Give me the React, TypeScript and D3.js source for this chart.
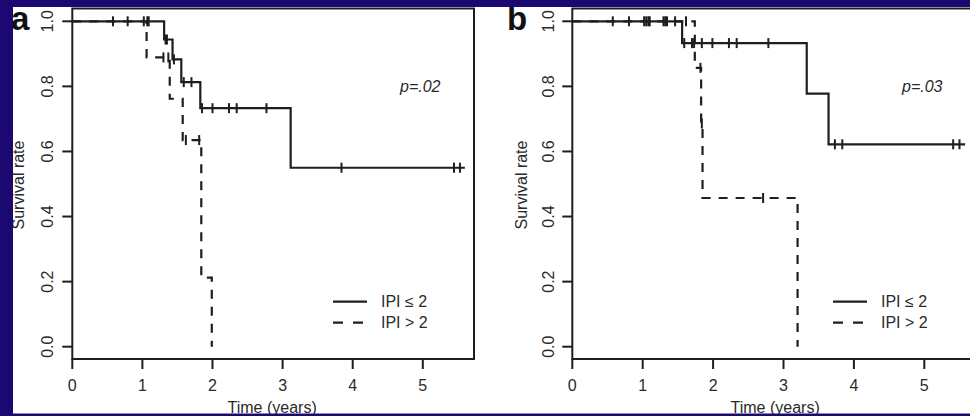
import React from "react";
import * as d3 from "d3";

// ---------- data ----------
const xTicks = [0, 1, 2, 3, 4, 5];
const yTicks = [0, 0.2, 0.4, 0.6, 0.8, 1.0];

// Panel a, IPI <= 2 (solid)
const aLowTimes = [0, 1.31, 1.43, 1.555, 1.826, 3.115];
const aLowSurv = [1, 0.944, 0.883, 0.813, 0.733, 0.55];
const aLowEnd = 5.6;
const aLowCensor = [0.58, 0.79, 1.02, 1.07, 1.09, 1.33, 1.35, 1.45, 1.59, 1.7, 1.85, 2.0, 2.235, 2.345, 2.77, 3.84, 5.445, 5.53];

// Panel a, IPI > 2 (dashed)
const aHighTimes = [0, 1.06, 1.39, 1.575, 1.84, 1.99];
const aHighSurv = [1, 0.889, 0.762, 0.635, 0.212, 0];
const aHighEnd = 1.99;
const aHighCensor = [1.3, 1.37, 1.62, 1.81];

// Panel b, IPI <= 2 (solid)
const bLowTimes = [0, 1.56, 3.33, 3.64];
const bLowSurv = [1, 0.933, 0.778, 0.622];
const bLowEnd = 5.58;
const bLowCensor = [0.575, 0.805, 1.02, 1.05, 1.08, 1.1, 1.295, 1.32, 1.345, 1.46, 1.59, 1.7, 1.73, 1.84, 1.99, 2.225, 2.335, 2.785, 3.73, 3.835, 5.41, 5.5];

// Panel b, IPI > 2 (dashed)
const bHighTimes = [0, 1.74, 1.83, 1.85, 3.2];
const bHighSurv = [1, 0.857, 0.686, 0.457, 0];
const bHighEnd = 3.2;
const bHighCensor = [1.615, 1.82, 1.84, 2.71];

const legendLabels = ["IPI \u2264 2", "IPI > 2"];
const pValues = ["p=.02", "p=.03"];
const panelLetters = ["a", "b"];

// ---------- layout ----------
const W = 970;
const H = 416;
const BLUE = "#1b0870";
const INK = "#1e1e1e";
const FONT = "Liberation Sans, Arial, Helvetica, sans-serif";
const yScale = d3.scaleLinear().domain([0, 1]).range([346.7, 21.3]);
const boxTop = 8.5;
const boxBottom = 359;

type Curve = { times: number[]; surv: number[]; end: number; censor: number[]; dashed: boolean };

const panels = [
  {
    letter: panelLetters[0],
    p: pValues[0],
    x: d3.scaleLinear().domain([0, 5]).range([72.3, 422.8]),
    boxRight: 474,
    curves: [
      { times: aLowTimes, surv: aLowSurv, end: aLowEnd, censor: aLowCensor, dashed: false },
      { times: aHighTimes, surv: aHighSurv, end: aHighEnd, censor: aHighCensor, dashed: true },
    ] as Curve[],
    letterX: 11,
    ylabX: 18.5,
    yTickLabX: 47,
    legendX: 333,
    pX: 400,
  },
  {
    letter: panelLetters[1],
    p: pValues[1],
    x: d3.scaleLinear().domain([0, 5]).range([572.3, 924.3]),
    boxRight: 980,
    curves: [
      { times: bLowTimes, surv: bLowSurv, end: bLowEnd, censor: bLowCensor, dashed: false },
      { times: bHighTimes, surv: bHighSurv, end: bHighEnd, censor: bHighCensor, dashed: true },
    ] as Curve[],
    letterX: 507,
    ylabX: 521.5,
    yTickLabX: 548.5,
    legendX: 833,
    pX: 902,
  },
];

function survAt(c: Curve, t: number) {
  const i = d3.bisectRight(c.times, t) - 1;
  return c.surv[Math.max(0, i)];
}

function Panel({ cfg }: { cfg: (typeof panels)[number] }) {
  const x = cfg.x;
  const x0 = x(0);
  const line = d3
    .line<[number, number]>()
    .x((d) => x(d[0]))
    .y((d) => yScale(d[1]))
    .curve(d3.curveStepAfter);
  const dash = "9 8";
  return (
    <g>
      {/* box */}
      <rect x={x0} y={boxTop} width={cfg.boxRight - x0} height={boxBottom - boxTop} fill="none" stroke={INK} strokeWidth={2} />
      {/* x axis ticks */}
      {xTicks.map((t) => (
        <g key={"xt" + t}>
          <line x1={x(t)} x2={x(t)} y1={boxBottom} y2={boxBottom + 10} stroke={INK} strokeWidth={2} />
          <text x={x(t)} y={391} textAnchor="middle" fontFamily={FONT} fontSize={16} fill="#2a2a2a">
            {t}
          </text>
        </g>
      ))}
      {/* y axis ticks */}
      {yTicks.map((v) => (
        <g key={"yt" + v}>
          <line x1={x0 - 10} x2={x0} y1={yScale(v)} y2={yScale(v)} stroke={INK} strokeWidth={2} />
          <text
            transform={`translate(${cfg.yTickLabX},${yScale(v)}) rotate(-90)`}
            textAnchor="middle"
            dy="0.36em"
            fontFamily={FONT}
            fontSize={16}
            fill="#2a2a2a"
          >
            {v.toFixed(1)}
          </text>
        </g>
      ))}
      <text
        transform={`translate(${cfg.ylabX},${185}) rotate(-90)`}
        textAnchor="middle"
        dy="0.36em"
        fontFamily={FONT}
        fontSize={16}
        fill="#2a2a2a"
      >
        Survival rate
      </text>
      <text x={(x0 + cfg.boxRight) / 2 - 1} y={412.5} textAnchor="middle" fontFamily={FONT} fontSize={16} fill="#2a2a2a">
        Time (years)
      </text>
      {/* curves */}
      {cfg.curves.map((c, ci) => {
        const pts: [number, number][] = c.times.map((t, i) => [t, c.surv[i]] as [number, number]);
        if (c.end > c.times[c.times.length - 1]) pts.push([c.end, c.surv[c.surv.length - 1]]);
        return (
          <g key={"c" + ci}>
            <path d={line(pts) || ""} fill="none" stroke={INK} strokeWidth={2.2} strokeDasharray={c.dashed ? dash : undefined} />
            {c.censor.map((t, k) => (
              <line
                key={k}
                x1={x(t)}
                x2={x(t)}
                y1={yScale(survAt(c, t)) - 5}
                y2={yScale(survAt(c, t)) + 5}
                stroke={INK}
                strokeWidth={2}
              />
            ))}
          </g>
        );
      })}
      {/* p value */}
      <text x={cfg.pX} y={92} fontFamily={FONT} fontSize={16} fontStyle="italic" fill="#2a2a2a">
        {cfg.p}
      </text>
      {/* legend */}
      {legendLabels.map((lab, i) => {
        const ly = 301.7 + i * 21;
        return (
          <g key={"lg" + i}>
            <line x1={cfg.legendX} x2={cfg.legendX + 34} y1={ly} y2={ly} stroke={INK} strokeWidth={2.2} strokeDasharray={i === 1 ? "10 10" : undefined} />
            <text x={cfg.legendX + 48} y={ly} dy="0.36em" fontFamily={FONT} fontSize={16} fill="#2a2a2a">
              {lab}
            </text>
          </g>
        );
      })}
      {/* panel letter */}
      <text x={cfg.letterX} y={30} fontFamily={FONT} fontSize={33} fontWeight="bold" fill="#111">
        {cfg.letter}
      </text>
    </g>
  );
}

export default function App() {
  return (
    <svg width={W} height={H} style={{ position: "fixed", left: 0, top: 0, display: "block" }}>
      <rect x={0} y={0} width={W} height={H} fill={BLUE} />
      <rect x={13} y={7} width={W - 13} height={406.5} fill="#ffffff" />
      {panels.map((p) => (
        <Panel key={p.letter} cfg={p} />
      ))}
      {/* frame strips over the panel edges */}
      <rect x={0} y={0} width={W} height={7} fill={BLUE} />
      <rect x={0} y={414} width={W} height={H - 414} fill={BLUE} />
      <rect x={0} y={0} width={13} height={H} fill={BLUE} />
    </svg>
  );
}
